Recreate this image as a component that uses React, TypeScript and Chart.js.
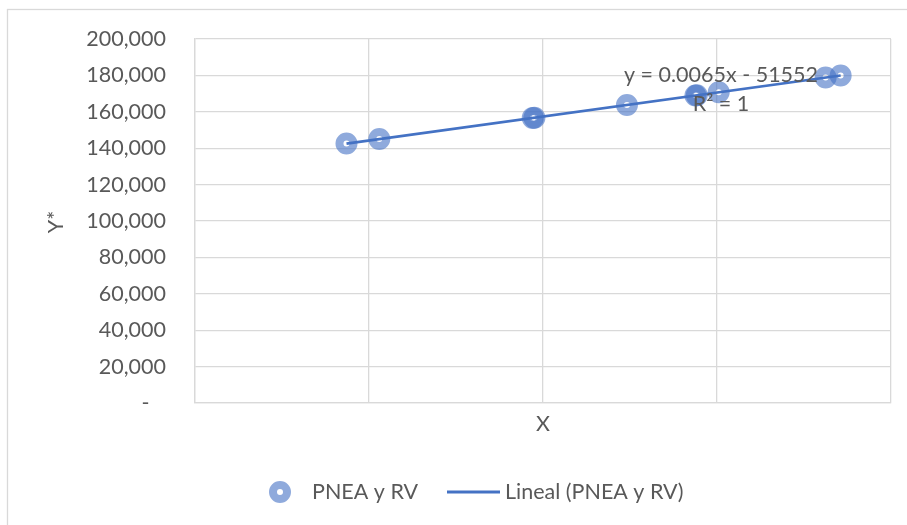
import React, { useEffect, useRef } from "react";
import { Chart, registerables } from "chart.js";

Chart.register(...registerables);

// PNEA y RV observations
const pneaX = [29863000, 30245000, 32031000, 32050000, 33127000, 33924000, 33940000, 34195000, 35439000, 35614000];
const pneaY = [142558, 145041, 156650, 156773, 163774, 168954, 169058, 170716, 178802, 179939];

// Linear trend as stated in its label
const trendSlope = 0.0065;
const trendIntercept = -51552;
const equationLabel = "y = 0.0065x - 51552";
const r2Label = "R² = 1";

// Axis settings
const xMin = 28100000;
const xMax = 36200000;
const xStep = 2025000;
const yMin = 0;
const yMax = 200000;
const yStep = 20000;

const seriesName = "PNEA y RV";
const trendName = "Lineal (PNEA y RV)";
const xTitle = "X";
const yTitle = "Y*";

const FONT = "Lato, 'Noto Sans', sans-serif";
const FONT_SIZE = 21.5;
const TEXT = "#595959";
const GRID = "#D9D9D9";
const MARKER = "rgba(68,114,196,0.6)";
const LINE = "#4472C4";

const trendX = [pneaX[0], pneaX[pneaX.length - 1]];
const trendY = trendX.map((x) => trendSlope * x + trendIntercept);

const decorations = {
  id: "decorations",
  beforeDraw(chart: any) {
    const { ctx, width, height } = chart;
    ctx.save();
    ctx.fillStyle = "#ffffff";
    ctx.fillRect(0, 0, width, height);
    ctx.strokeStyle = GRID;
    ctx.lineWidth = 1.3;
    ctx.strokeRect(7.5, 9.5, width + 20, height + 20);
    ctx.restore();
  },
  afterDraw(chart: any) {
    const { ctx, chartArea } = chart;
    ctx.save();
    ctx.font = `${FONT_SIZE}px ${FONT}`;
    ctx.fillStyle = TEXT;
    ctx.textBaseline = "middle";

    // axis titles
    ctx.textAlign = "center";
    ctx.fillText(xTitle, (chartArea.left + chartArea.right) / 2, chartArea.bottom + 21);
    ctx.save();
    ctx.translate(56, 222);
    ctx.rotate(-Math.PI / 2);
    ctx.fillText(yTitle, 0, 0);
    ctx.restore();

    // trendline label
    ctx.fillText(equationLabel, 721, 75);
    ctx.fillText(r2Label, 721, 104);

    // legend
    const ly = 492;
    ctx.beginPath();
    ctx.arc(280, ly, 7, 0, Math.PI * 2);
    ctx.strokeStyle = MARKER;
    ctx.lineWidth = 8;
    ctx.stroke();
    ctx.textAlign = "left";
    ctx.fillText(seriesName, 312, ly);
    ctx.beginPath();
    ctx.moveTo(447, ly);
    ctx.lineTo(500, ly);
    ctx.strokeStyle = LINE;
    ctx.lineWidth = 3;
    ctx.stroke();
    ctx.fillText(trendName, 505, ly);
    ctx.restore();
  },
};

export default function App() {
  const canvasRef = useRef<HTMLCanvasElement | null>(null);

  useEffect(() => {
    const canvas = canvasRef.current;
    if (!canvas) return;
    const chart = new Chart(canvas, {
      type: "scatter",
      data: {
        datasets: [
          {
            label: trendName,
            data: trendX.map((x, i) => ({ x, y: trendY[i] })),
            showLine: true,
            borderColor: LINE,
            borderWidth: 2.75,
            pointRadius: 0,
            order: 0,
          },
          {
            label: seriesName,
            data: pneaX.map((x, i) => ({ x, y: pneaY[i] })),
            showLine: false,
            pointRadius: 7,
            pointBorderWidth: 8,
            pointBorderColor: MARKER,
            pointBackgroundColor: "rgba(0,0,0,0)",
            order: 1,
          },
        ],
      },
      options: {
        responsive: false,
        animation: false,
        layout: { padding: { left: 0, top: 39, right: 16, bottom: 122 } },
        plugins: { legend: { display: false }, tooltip: { enabled: false } },
        scales: {
          x: {
            type: "linear",
            min: xMin,
            max: xMax,
            ticks: { stepSize: xStep, display: false },
            grid: { color: GRID, lineWidth: 1.3, drawTicks: false },
            border: { color: GRID, width: 1.3 },
            afterFit(scale: any) {
              scale.height = 0;
            },
          },
          y: {
            min: yMin,
            max: yMax,
            ticks: {
              stepSize: yStep,
              padding: 29,
              color: TEXT,
              font: { family: FONT, size: FONT_SIZE },
              callback: (v: any) => (Number(v) === 0 ? "-   " : Number(v).toLocaleString("en-US")),
            },
            grid: { color: GRID, lineWidth: 1.3, drawTicks: false },
            border: { color: GRID, width: 1.3 },
            afterFit(scale: any) {
              scale.width = 195;
              scale.paddingTop = 0;
              scale.paddingBottom = 0;
            },
          },
        },
      },
      plugins: [decorations],
    });
    return () => chart.destroy();
  }, []);

  return (
    <div style={{ position: "fixed", left: 0, top: 0, width: 907, height: 525, background: "#fff" }}>
      <canvas ref={canvasRef} width={907} height={525} style={{ display: "block" }} />
    </div>
  );
}
